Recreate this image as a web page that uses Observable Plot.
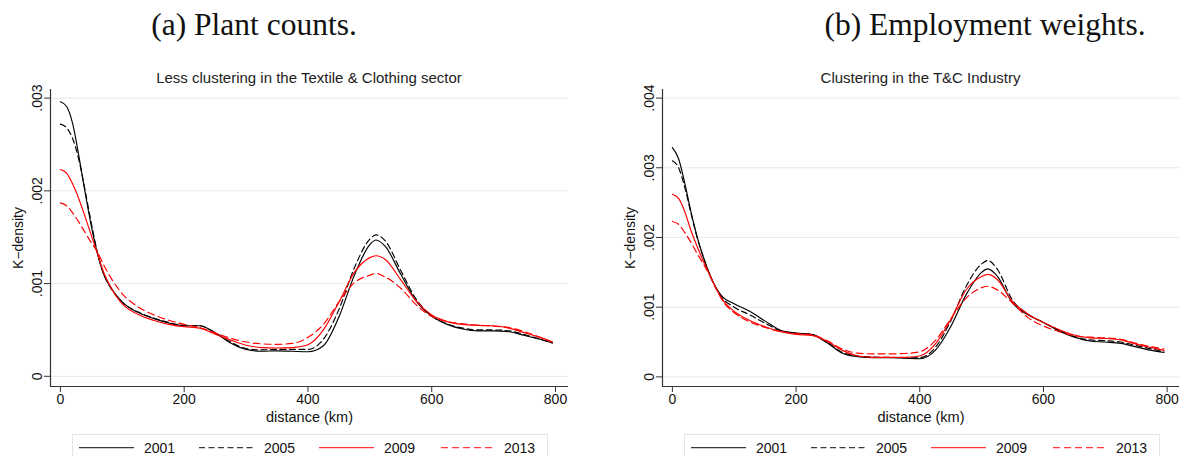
<!DOCTYPE html>
<html><head><meta charset="utf-8">
<script src="https://cdn.jsdelivr.net/npm/d3@7"></script>
<script src="https://cdn.jsdelivr.net/npm/@observablehq/plot@0.6"></script>
<style>
html,body{margin:0;padding:0;background:#fff;width:1179px;height:456px;overflow:hidden;position:relative;font-family:"Liberation Sans",Arial,sans-serif;}
.abs{position:absolute;}
.heading{font-family:"Liberation Serif",serif;font-size:31.5px;line-height:31.5px;text-align:center;color:#111;white-space:nowrap;}
.ptitle{font-size:15px;line-height:15px;text-align:center;color:#222;white-space:nowrap;}
.legend{border:1px solid #dde6ea;box-sizing:border-box;background:#fff;}
</style></head><body>
<script>
// ---- data (density values in thousandths, i.e. ×0.001) ----
const distances = [0,10,20,30,40,50,60,70,80,100,125,150,175,200,225,250,275,300,325,350,375,400,425,450,475,500,510,525,550,575,600,625,650,675,700,725,750,775,795];
const years = ["2001","2005","2009","2013"];
const seriesColors = ["#000000","#000000","#ff0000","#ff0000"];
const seriesDash = [null,"6,3.5",null,"7,4"];
const legendColors = ["#3a3a3a","#3a3a3a","#ff3b3b","#ff3b3b"];

// Panel (a): plant counts
const plantA2001 = [2.96,2.91,2.72,2.37,1.98,1.62,1.32,1.10,0.97, 0.80,0.69,0.625,0.575,0.545,0.545,0.47,0.36,0.29, 0.27,0.275,0.27,0.265,0.33,0.64,1.09,1.42, 1.47,1.40,1.10,0.81,0.65, 0.56,0.51,0.49,0.49,0.48,0.44,0.40,0.36];
const plantA2005 = [2.72,2.68,2.56,2.33,2.00,1.65,1.33,1.10,0.97, 0.80,0.695,0.63,0.58,0.55,0.545,0.47,0.37,0.30, 0.285,0.29,0.29,0.29,0.40,0.72,1.17,1.48, 1.525,1.46,1.14,0.83,0.65, 0.565,0.52,0.50,0.50,0.49,0.45,0.40,0.36];
const plantA2009 = [2.23,2.19,2.07,1.91,1.72,1.52,1.32,1.12,0.98, 0.78,0.67,0.605,0.56,0.535,0.52,0.455,0.39,0.335, 0.31,0.305,0.31,0.34,0.50,0.80,1.12,1.28, 1.30,1.26,1.04,0.81,0.66, 0.59,0.56,0.55,0.545,0.52,0.47,0.42,0.37];
const plantA2013 = [1.87,1.84,1.76,1.66,1.55,1.44,1.34,1.20,1.08, 0.89,0.75,0.665,0.605,0.56,0.525,0.47,0.41,0.37, 0.35,0.345,0.355,0.42,0.56,0.80,1.01,1.09, 1.11,1.07,0.95,0.77,0.645, 0.59,0.565,0.55,0.54,0.525,0.48,0.42,0.37];

// Panel (b): employment weights
const empB2001 = [3.29,3.13,2.78,2.37,2.01,1.72,1.48,1.29,1.16, 1.05,0.94,0.80,0.67,0.63,0.61,0.49,0.34,0.29, 0.275,0.275,0.27,0.26,0.38,0.72,1.18,1.50, 1.55,1.45,1.06,0.89,0.78, 0.66,0.57,0.515,0.50,0.48,0.43,0.38,0.35];
const empB2005 = [3.10,3.00,2.72,2.35,2.00,1.72,1.47,1.28,1.14, 1.00,0.89,0.77,0.66,0.625,0.61,0.50,0.35,0.30, 0.285,0.28,0.275,0.275,0.42,0.80,1.30,1.62, 1.67,1.55,1.10,0.90,0.78, 0.67,0.58,0.53,0.52,0.50,0.45,0.40,0.36];
const empB2009 = [2.62,2.56,2.37,2.10,1.87,1.66,1.47,1.28,1.12, 0.94,0.81,0.72,0.65,0.61,0.595,0.51,0.38,0.30, 0.28,0.28,0.28,0.30,0.47,0.82,1.25,1.44, 1.47,1.40,1.08,0.90,0.78, 0.68,0.60,0.56,0.55,0.53,0.47,0.42,0.38];
const empB2013 = [2.23,2.19,2.07,1.93,1.77,1.62,1.46,1.28,1.11, 0.92,0.79,0.71,0.65,0.62,0.605,0.52,0.40,0.34, 0.33,0.33,0.335,0.36,0.52,0.83,1.13,1.28, 1.30,1.25,1.06,0.85,0.73, 0.65,0.59,0.57,0.56,0.54,0.48,0.43,0.40];

const xTicks = [0,200,400,600,800];
const yTicksA = [0,1,2,3];
const yTickLabelsA = ["0",".001",".002",".003"];
const yTicksB = [0,1,2,3,4];
const yTickLabelsB = ["0",".001",".002",".003",".004"];
const headings = ["(a) Plant counts.","(b) Employment weights."];
const titles = ["Less clustering in the Textile & Clothing sector","Clustering in the T&C Industry"];
const xLabel = "distance (km)";
const yLabel = "K\u2212density";

function el(tag, cls, css, text){
  const e = document.createElement(tag);
  if (cls) e.className = cls;
  Object.assign(e.style, css||{});
  if (text != null) e.textContent = text;
  document.body.appendChild(e);
  return e;
}

function panel(cfg){
  const rows = [];
  cfg.series.forEach((vals,i)=>vals.forEach((v,j)=>rows.push({year:years[i], dist:distances[j], v})));
  const marks = [
    Plot.gridY(cfg.yTicks, {stroke:"#e2ebee", strokeOpacity:1, strokeWidth:1}),
    ...years.map((y,i)=>Plot.line(rows.filter(r=>r.year===y), {
      x:"dist", y:"v", stroke:seriesColors[i], strokeWidth:1.15,
      strokeDasharray: seriesDash[i] || undefined, curve:"monotone-x"})),
    Plot.ruleX([cfg.xDomain[0]], {stroke:"#333", strokeWidth:1.2}),
    Plot.ruleY([cfg.yDomain[0]], {stroke:"#333", strokeWidth:1.2}),
    Plot.axisX(xTicks, {tickSize:6, tickPadding:2, stroke:"#333", fontSize:14, label:null}),
    Plot.axisY(cfg.yTicks, {tickSize:6, tickRotate:-90, tickPadding:3, stroke:"#333", fontSize:14, label:null,
      tickFormat: d => cfg.yTickLabels[cfg.yTicks.indexOf(d)]}),
    Plot.text([yLabel], {text:d=>d, frameAnchor:"left", dx:-32, rotate:-90, fontSize:14, fill:"#111",
      textAnchor:"middle", lineAnchor:"middle"}),
    Plot.text([xLabel], {text:d=>d, frameAnchor:"bottom", dy:31, fontSize:14.5, fill:"#111",
      textAnchor:"middle", lineAnchor:"middle"})
  ];
  const svg = Plot.plot({
    width: cfg.width, height: 346,
    marginLeft: 50, marginRight: cfg.marginRight, marginTop: 5, marginBottom: 44,
    x: {domain: cfg.xDomain, axis: null},
    y: {domain: cfg.yDomain, axis: null},
    style: {fontFamily:'"Liberation Sans", Arial, sans-serif', fontSize:"14px", background:"transparent", color:"#111", overflow:"visible"},
    marks
  });
  svg.style.position = "absolute";
  svg.style.left = cfg.left + "px";
  svg.style.top = "84px";
  document.body.appendChild(svg);

  el("div","abs heading",{left:(cfg.headingCenter-300)+"px", width:"600px", top:"8.6px"}, cfg.heading);
  el("div","abs ptitle",{left:(cfg.left+50+(cfg.width-50-cfg.marginRight)/2-300)+"px", width:"600px", top:"69.6px"}, cfg.title);

  // legend
  const lg = el("div","abs legend",{left:cfg.legendLeft+"px", top:"434px", width:"476px", height:"30px"});
  const ns = "http://www.w3.org/2000/svg";
  const s = document.createElementNS(ns,"svg");
  s.setAttribute("width","474"); s.setAttribute("height","28");
  s.style.position="absolute"; s.style.left="0"; s.style.top="0";
  const lineX = [[6,61],[126,180],[246,301],[368,421]];
  const textX = [71,191,311,431];
  years.forEach((y,i)=>{
    const l = document.createElementNS(ns,"line");
    l.setAttribute("x1",lineX[i][0]); l.setAttribute("x2",lineX[i][1]);
    l.setAttribute("y1",12.7); l.setAttribute("y2",12.7);
    l.setAttribute("stroke",legendColors[i]); l.setAttribute("stroke-width","1.2");
    if (seriesDash[i]) l.setAttribute("stroke-dasharray", seriesDash[i]);
    s.appendChild(l);
    const t = document.createElementNS(ns,"text");
    t.setAttribute("x",textX[i]); t.setAttribute("y",17.8);
    t.setAttribute("font-size","14"); t.setAttribute("fill","#111");
    t.setAttribute("font-family",'"Liberation Sans", Arial, sans-serif');
    t.textContent = y;
    s.appendChild(t);
  });
  lg.appendChild(s);
}

panel({left:0, width:580, marginRight:12, xDomain:[-16,821], yDomain:[-0.11,3.093],
  yTicks:yTicksA, yTickLabels:yTickLabelsA, series:[plantA2001,plantA2005,plantA2009,plantA2013],
  heading:headings[0], title:titles[0], headingCenter:254, legendLeft:72});
panel({left:612, width:567, marginRight:0, xDomain:[-16,820], yDomain:[-0.138,4.123],
  yTicks:yTicksB, yTickLabels:yTickLabelsB, series:[empB2001,empB2005,empB2009,empB2013],
  heading:headings[1], title:titles[1], headingCenter:985, legendLeft:684});
</script>
</body></html>
